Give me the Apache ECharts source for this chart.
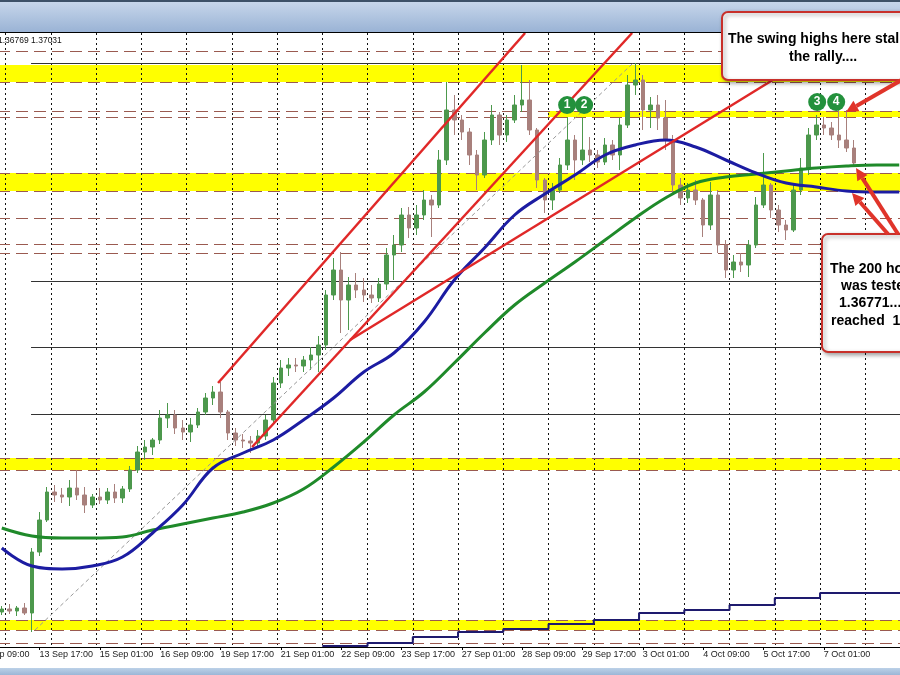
<!DOCTYPE html>
<html><head><meta charset="utf-8">
<script src="https://cdn.jsdelivr.net/npm/echarts/dist/echarts.min.js"></script>
<style>html,body{margin:0;padding:0;background:#fff}#c{width:900px;height:675px}</style>
</head><body><div id="c"></div>
<script>
// ---- x-axis tick labels (4-hour slots, one label every 8 slots starting at slot 5)
const tickLabels = ['13 Sep 17:00','15 Sep 01:00','16 Sep 09:00','19 Sep 17:00','21 Sep 01:00','22 Sep 09:00','23 Sep 17:00','27 Sep 01:00','28 Sep 09:00','29 Sep 17:00','3 Oct 01:00','4 Oct 09:00','5 Oct 17:00','7 Oct 01:00'];
const slotCount = 120;
// ---- USDCAD 4-hour candles: [open, close, low, high]
const candles = [
[1.29638,1.29686,1.29590,1.29734],[1.29686,1.29654,1.29606,1.29766],[1.29654,1.29702,1.29574,1.29734],[1.29702,1.29622,1.29590,1.29782],
[1.29622,1.30598,1.29318,1.30662],[1.30598,1.31110,1.30534,1.31238],[1.31110,1.31558,1.31078,1.31638],[1.31558,1.31510,1.31398,1.31670],
[1.31510,1.31478,1.31382,1.31622],[1.31478,1.31622,1.31334,1.31750],[1.31622,1.31510,1.31430,1.31910],[1.31510,1.31350,1.31222,1.31638],
[1.31350,1.31478,1.31302,1.31526],[1.31478,1.31430,1.31366,1.31622],[1.31430,1.31558,1.31366,1.31622],[1.31558,1.31462,1.31382,1.31686],
[1.31462,1.31606,1.31382,1.31654],[1.31606,1.31910,1.31558,1.31974],[1.31910,1.32198,1.31862,1.32294],[1.32198,1.32278,1.32070,1.32390],
[1.32278,1.32390,1.32150,1.32422],[1.32390,1.32742,1.32326,1.32870],[1.32742,1.32790,1.32582,1.32982],[1.32790,1.32582,1.32486,1.32870],
[1.32582,1.32518,1.32390,1.32710],[1.32518,1.32630,1.32358,1.32742],[1.32630,1.32838,1.32582,1.32902],[1.32838,1.33062,1.32790,1.33142],
[1.33062,1.33158,1.32950,1.33254],[1.33158,1.32838,1.32742,1.33318],[1.32838,1.32502,1.32390,1.32870],[1.32502,1.32390,1.32294,1.32582],
[1.32390,1.32374,1.32262,1.32486],[1.32374,1.32342,1.32182,1.32454],[1.32342,1.32454,1.32262,1.32550],[1.32454,1.32710,1.32390,1.32790],
[1.32710,1.33302,1.32646,1.33398],[1.33302,1.33542,1.33222,1.33670],[1.33542,1.33590,1.33414,1.33702],[1.33590,1.33574,1.33478,1.33702],
[1.33574,1.33670,1.33478,1.33734],[1.33670,1.33750,1.33510,1.33878],[1.33750,1.33910,1.33478,1.34054],[1.33910,1.34710,1.33830,1.34790],
[1.34710,1.35110,1.34630,1.35302],[1.35110,1.34630,1.34102,1.35398],[1.34630,1.34870,1.34150,1.34998],[1.34870,1.34790,1.34662,1.35062],
[1.34790,1.34710,1.34598,1.34982],[1.34710,1.34662,1.34582,1.34870],[1.34662,1.34886,1.34598,1.34982],[1.34886,1.35350,1.34790,1.35462],
[1.35350,1.35510,1.34950,1.35670],[1.35510,1.35990,1.35398,1.36102],[1.35990,1.35782,1.35622,1.36118],[1.35782,1.35990,1.35670,1.36150],
[1.35990,1.36230,1.35910,1.36390],[1.36230,1.36150,1.35638,1.36310],[1.36150,1.36870,1.36102,1.37030],[1.36870,1.37670,1.36790,1.38118],
[1.37670,1.37510,1.37270,1.37910],[1.37510,1.37318,1.37190,1.37590],[1.37318,1.36950,1.36790,1.37382],[1.36950,1.36630,1.36390,1.37030],
[1.36630,1.37190,1.36582,1.37318],[1.37190,1.37590,1.37110,1.37750],[1.37590,1.37270,1.37110,1.37638],[1.37270,1.37510,1.37158,1.37590],
[1.37510,1.37750,1.37462,1.37910],[1.37750,1.37830,1.37638,1.38390],[1.37830,1.37350,1.37270,1.38150],[1.37350,1.36550,1.36422,1.37382],
[1.36550,1.36230,1.36022,1.36582],[1.36230,1.36390,1.36070,1.36502],[1.36390,1.36790,1.36342,1.36902],[1.36790,1.37190,1.36710,1.37558],
[1.37190,1.36870,1.36550,1.37270],[1.36870,1.37030,1.36790,1.37558],[1.37030,1.36950,1.36838,1.37238],[1.36950,1.36838,1.36742,1.37030],
[1.36838,1.37110,1.36790,1.37222],[1.37110,1.36950,1.36870,1.37190],[1.36950,1.37430,1.36710,1.37542],[1.37430,1.38070,1.37382,1.38230],
[1.38070,1.38150,1.37910,1.38422],[1.38150,1.37670,1.37350,1.38230],[1.37670,1.37750,1.37382,1.37878],[1.37750,1.37542,1.37350,1.37910],
[1.37542,1.37190,1.37030,1.37830],[1.37190,1.36470,1.36310,1.37270],[1.36470,1.36262,1.36150,1.36582],[1.36262,1.36390,1.36182,1.36502],
[1.36390,1.36230,1.36150,1.36550],[1.36230,1.35830,1.35638,1.36262],[1.35830,1.36310,1.35750,1.36518],[1.36310,1.35510,1.35382,1.36390],
[1.35510,1.35110,1.34982,1.35590],[1.35110,1.35238,1.34982,1.35350],[1.35238,1.35190,1.35078,1.35382],[1.35190,1.35510,1.34998,1.35590],
[1.35510,1.36150,1.35462,1.36278],[1.36150,1.36470,1.36102,1.36982],[1.36470,1.36070,1.35942,1.36502],[1.36070,1.35830,1.35718,1.36150],
[1.35830,1.35750,1.35590,1.35910],[1.35750,1.36390,1.35718,1.36470],[1.36390,1.36742,1.36310,1.36902],[1.36742,1.37270,1.36630,1.37382],
[1.37270,1.37430,1.37190,1.37590],[1.37430,1.37382,1.37270,1.37558],[1.37382,1.37270,1.37190,1.37478],[1.37270,1.37190,1.37062,1.37670],
[1.37190,1.37062,1.36998,1.37670],[1.37062,1.36822,1.36774,1.37190]
];
// ---- moving averages sampled at slot indices
const maSlots = [0,4,8,12,16,20,24,28,32,36,40,44,48,52,56,60,64,68,72,76,80,84,88,92,96,100,104,108,112,116,119];
const ma100 = [1.30662,1.30374,1.30326,1.30374,1.30518,1.30902,1.31350,1.31942,1.32182,1.32390,1.32710,1.33062,1.33478,1.33782,1.34278,1.34950,1.35462,1.35990,1.36326,1.36630,1.36950,1.37110,1.37190,1.37078,1.36870,1.36662,1.36502,1.36438,1.36374,1.36358,1.36358];
const ma200 = [1.30982,1.30854,1.30822,1.30822,1.30838,1.30950,1.31046,1.31142,1.31238,1.31382,1.31606,1.31958,1.32358,1.32790,1.33158,1.33622,1.34102,1.34550,1.34902,1.35238,1.35590,1.35942,1.36262,1.36502,1.36598,1.36646,1.36694,1.36742,1.36774,1.36790,1.36790];
// ---- daily stepped indicator at the bottom
const stepStarts = [42.5,48.5,54.5,60.5,66.5,72.5,78.5,84.5,90.5,96.5,102.5,108.5,119.5];
const stepValues = [1.29094,1.29142,1.29238,1.29318,1.29366,1.29446,1.29510,1.29622,1.29670,1.29750,1.29862,1.29942,1.29942];
// ---- trend lines [slot, price]
const trendLines = [
  [[28.68,1.33302],[69.39,1.38902]],
  [[33.19,1.32278],[83.58,1.38902]],
  [[46.18,1.33990],[112.36,1.38902]]
];
const guideLine = [[4.41,1.29350],[83.72,1.38422]];
// ---- horizontal levels
const dashedLevels = [1.38614,1.38118,1.37654,1.37558,1.36662,1.36374,1.35942,1.35526,1.35382,1.32102,1.31910,1.29510,1.29350,1.29142];
const solidLevels = [1.38422,1.34934,1.33878,1.32806];
const solidStart = 3.88;
const yellowBands = [[1.38390,1.38118],[1.36662,1.36374],[1.32102,1.31910],[1.29510,1.29350]];
const partialBand = {from:72.44, top:1.37654, bottom:1.37558};
// ---- swing-high markers
const markers = [['1',74.96,1.37750],['2',77.22,1.37750],['3',108.12,1.37798],['4',110.64,1.37798]];
const yMin = 1.29078, yMax = 1.38902;

const categories = Array.from({length: slotCount}, (_, i) => 's' + i);
const labelAt = i => (i >= 5 && (i - 5) % 8 === 0 && tickLabels[(i - 5) / 8]) ? tickLabels[(i - 5) / 8] : '';

const chart = echarts.init(document.getElementById('c'), null, {renderer: 'canvas'});
const FONT = '"Liberation Sans", Arial, sans-serif';
const RED = '#e0342a';

function arrow(x0, y0, x1, y1, head) {
  return [
    {type:'line', z:101, shape:{x1:x0, y1:y0, x2:x1, y2:y1}, style:{stroke:RED, lineWidth:4}},
    {type:'polygon', z:101, shape:{points:head}, style:{fill:RED}}
  ];
}
function txt(x, y, s, font) {
  return {type:'text', z:101, x:x, y:y, style:{text:s, font:font, fill:'#000', align:'left', verticalAlign:'middle', textAlign:'left', textVerticalAlign:'middle'}};
}

const option = {
  animation: false,
  backgroundColor: '#ffffff',
  grid: {left: -2, right: -3, top: 33, bottom: 28, containLabel: false, outerBoundsMode: 'none'},
  xAxis: [
    {type:'category', data: categories, boundaryGap: true, gridIndex: 0,
     axisLine: {show: true, lineStyle: {color: '#000', width: 1}},
     axisTick: {show: true, alignWithLabel: true, length: 3, interval: (i) => labelAt(i) !== '', lineStyle: {color: '#000'}},
     axisLabel: {show: true, interval: (i) => labelAt(i) !== '', formatter: (v, i) => labelAt(i),
                 align: 'left', margin: 3, fontSize: 9, color: '#222', fontFamily: FONT, showMinLabel: true, showMaxLabel: true},
     splitLine: {show: true, interval: (i) => i % 6 === 1, lineStyle: {color: '#111', type: [2, 3], width: 1}}},
    {type:'value', min: -0.5, max: slotCount - 0.5, show: false, gridIndex: 0, splitLine:{show:false}}
  ],
  yAxis: [{type:'value', min: yMin, max: yMax, show: false, scale: true, splitLine:{show:false}, axisLine:{show:false}, axisLabel:{show:false}, axisTick:{show:false}}],
  series: [
    {type:'line', name:'step', xAxisIndex:1, data: stepStarts.map((x, i) => [x, stepValues[i]]), step:'end',
     symbol:'none', lineStyle:{color:'#1e1a6e', width:2}, z:3, silent:true,
     markArea: {silent:true, z:-1, itemStyle:{color:'#ffff00'},
       data: yellowBands.map(b => [{yAxis: b[0]}, {yAxis: b[1]}]).concat([[{xAxis: partialBand.from, yAxis: partialBand.top}, {xAxis: slotCount - 0.5, yAxis: partialBand.bottom}]])},
     markLine: {silent:true, z:1, precision: 6, symbol:['none','none'], label:{show:false},
       data: dashedLevels.map(v => ({yAxis: v, lineStyle:{color:'#9a5a50', type:[12,6], width:1}}))
         .concat(solidLevels.map(v => [{coord:[solidStart, v], lineStyle:{color:'#333', type:'solid', width:1}}, {coord:[slotCount - 0.5, v]}]))}
    },
    {type:'candlestick', xAxisIndex:0, data: candles, barWidth: 4, z:2,
     itemStyle:{color:'#4c984c', color0:'#a8807c', borderColor:'#4c984c', borderColor0:'#a8807c', borderWidth:1}},
    {type:'line', name:'200h MA', xAxisIndex:1, data: maSlots.map((s, i) => [s, ma200[i]]), smooth:0.4, symbol:'none',
     lineStyle:{color:'#1f8a2a', width:3}, z:4},
    {type:'line', name:'100h MA', xAxisIndex:1, data: maSlots.map((s, i) => [s, ma100[i]]), smooth:0.4, symbol:'none',
     lineStyle:{color:'#1c1ca2', width:3}, z:4},
    {type:'line', name:'guide', xAxisIndex:1, data: guideLine, symbol:'none', lineStyle:{color:'#999', width:1, type:[4,3]}, z:3}
  ].concat(trendLines.map(t => ({type:'line', xAxisIndex:1, data:t, symbol:'none', lineStyle:{color:'#e02828', width:2.5}, z:5})))
   .concat([{type:'scatter', xAxisIndex:1, data: markers.map(m => ({name:m[0], value:[m[1], m[2]]})), symbolSize:18,
     itemStyle:{color:'#23913c', opacity:1}, z:6,
     label:{show:true, position:'inside', formatter: p => p.name, color:'#fff', fontWeight:'bold', fontSize:12, fontFamily: FONT}}]),
  graphic: [
    {type:'rect', z:90, shape:{x:0, y:0, width:900, height:32}, style:{fill:new echarts.graphic.LinearGradient(0,0,0,1,[{offset:0,color:'#c9d8ec'},{offset:1,color:'#9ab3d5'}])}},
    {type:'rect', z:91, shape:{x:0, y:0, width:900, height:2}, style:{fill:'#3d5168'}},
    {type:'line', z:91, shape:{x1:0, y1:32.5, x2:900, y2:32.5}, style:{stroke:'#000', lineWidth:1}},
    {type:'rect', z:90, shape:{x:0, y:668, width:900, height:7}, style:{fill:new echarts.graphic.LinearGradient(0,0,0,1,[{offset:0,color:'#bcd1e8'},{offset:1,color:'#9bb6d6'}])}},
    {type:'text', z:92, x:-2, y:41, style:{text:'1.36769 1.37031', font:'8.5px ' + FONT, fill:'#111', align:'left', verticalAlign:'middle', textAlign:'left', textVerticalAlign:'middle'}},
    {type:'text', z:92, x:-24, y:655, style:{text:'12 Sep 09:00', font:'9px ' + FONT, fill:'#222', align:'left', verticalAlign:'middle', textAlign:'left', textVerticalAlign:'middle'}},
    {type:'rect', z:100, shape:{x:722, y:12, width:200, height:68, r:6}, style:{fill:'#fff', stroke:'#c8302a', lineWidth:2, shadowBlur:4, shadowColor:'rgba(0,0,0,0.35)', shadowOffsetX:2, shadowOffsetY:2}},
    txt(728, 39, 'The swing highs here stalled', 'bold 14px ' + FONT),
    txt(789, 57, 'the rally....', 'bold 14px ' + FONT),
    {type:'rect', z:100, shape:{x:822, y:234, width:100, height:118, r:6}, style:{fill:'#fff', stroke:'#c8302a', lineWidth:2, shadowBlur:4, shadowColor:'rgba(0,0,0,0.35)', shadowOffsetX:2, shadowOffsetY:2}},
    txt(830, 269, 'The 200 hour MA', 'bold 14px ' + FONT),
    txt(841, 286, 'was tested at', 'bold 14px ' + FONT),
    txt(839, 303, '1.36771... and', 'bold 14px ' + FONT),
    txt(831, 321, 'reached  1.3677', 'bold 14px ' + FONT)
  ].concat(arrow(905, 78, 856.4, 106, [[846,112],[859.4,111.2],[853.4,100.8]]))
   .concat(arrow(898, 234, 862.4, 178.1, [[856,168],[867.5,174.9],[857.3,181.3]]))
   .concat(arrow(888, 234, 859.9, 202, [[852,193],[864.4,198],[855.4,206]]))
};
chart.setOption(option);
</script>
</body></html>
